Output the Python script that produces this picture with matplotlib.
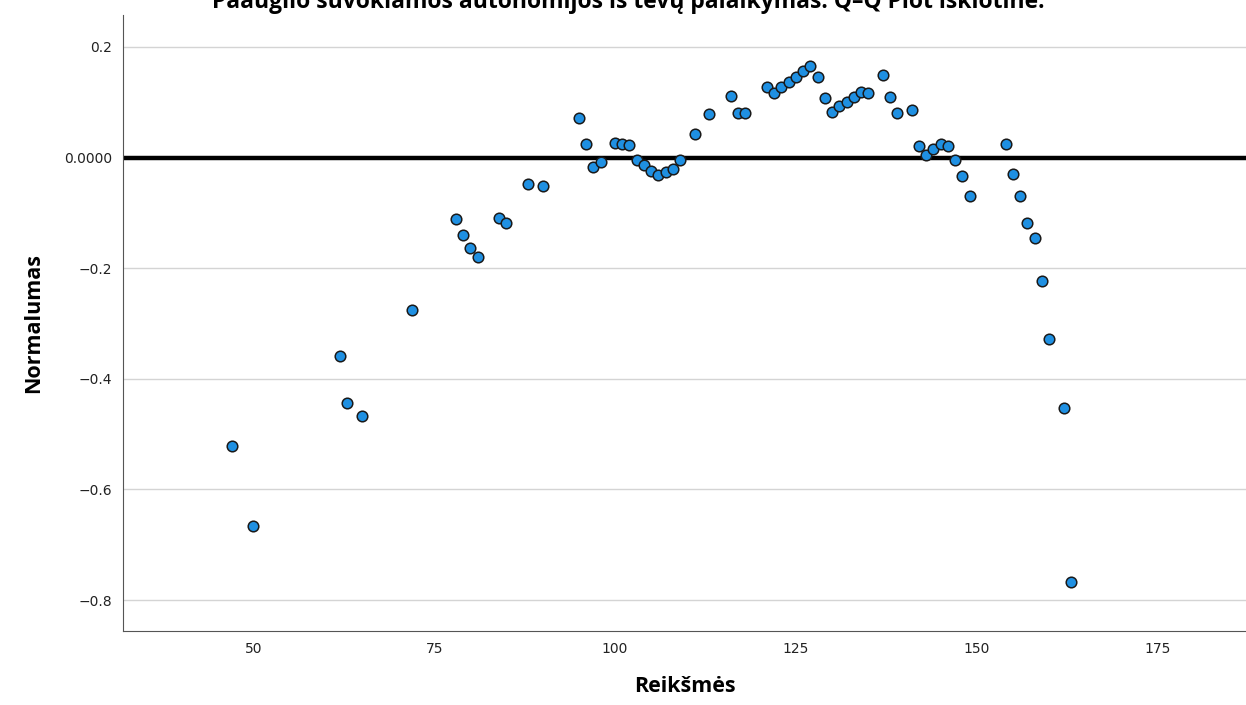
import matplotlib
matplotlib.use('Agg')
import matplotlib.pyplot as plt

# observed values (x) and detrended normal deviation (y)
values = [47, 50, 62, 63, 65, 72, 78, 79, 80, 81, 84, 85, 88, 90,
          95, 96, 97, 98, 100, 101, 102, 103, 104, 105, 106, 107, 108, 109,
          111, 113, 116, 117, 118, 121, 122, 123, 124, 125, 126, 127, 128,
          129, 130, 131, 132, 133, 134, 135, 137, 138, 139, 141, 142, 143,
          144, 145, 146, 147, 148, 149, 154, 155, 156, 157, 158, 159, 160,
          162, 163]
deviation = [-0.521, -0.667, -0.358, -0.443, -0.467, -0.275, -0.112, -0.141,
             -0.163, -0.179, -0.110, -0.119, -0.047, -0.052,
             0.071, 0.024, -0.018, -0.009, 0.027, 0.024, 0.022, -0.004,
             -0.014, -0.024, -0.032, -0.027, -0.020, -0.004,
             0.042, 0.078, 0.112, 0.080, 0.080, 0.128, 0.116, 0.127, 0.136,
             0.146, 0.156, 0.166, 0.146,
             0.107, 0.083, 0.094, 0.101, 0.110, 0.119, 0.116, 0.150, 0.110,
             0.080, 0.085, 0.020, 0.005,
             0.015, 0.025, 0.020, -0.005, -0.034, -0.070, 0.024, -0.030,
             -0.070, -0.119, -0.146, -0.224, -0.329,
             -0.452, -0.767]

x_ticks = [50, 75, 100, 125, 150, 175]
y_ticks = [0.2, 0.0, -0.2, -0.4, -0.6, -0.8]
y_tick_labels = ['0.2', '0.0000', '\u22120.2', '\u22120.4', '\u22120.6', '\u22120.8']

title = 'Paauglio suvokiamos autonomijos iš tėvų palaikymas. Q\u2013Q Plot išklotinė.'

fig = plt.figure(figsize=(12.46, 7.05), dpi=100)
ax = fig.add_axes([0.0987, 0.105, 0.9013, 0.874])

ax.set_xlim(32.0, 187.2)
ax.set_ylim(-0.856, 0.258)

ax.set_yticks(y_ticks)
ax.set_yticklabels(y_tick_labels)
ax.set_xticks(x_ticks)
ax.grid(axis='y', color='#d4d4d4', linewidth=1)
ax.set_axisbelow(True)

ax.axhline(0, color='black', linewidth=3.2, zorder=2)

ax.scatter(values, deviation, s=58, c='#1f90e2', edgecolors='#1a1a1a',
           linewidths=1.1, zorder=3)

for side in ['top', 'right']:
    ax.spines[side].set_visible(False)
for side in ['left', 'bottom']:
    ax.spines[side].set_color('#555555')
ax.tick_params(length=0, labelsize=10, colors='#222222', pad=8)

ax.set_xlabel('Reikšmės', fontsize=15.5, fontweight='bold', family='Open Sans',
              labelpad=14)
ax.set_ylabel('Normalumas', fontsize=15.5, fontweight='bold', family='Open Sans',
              labelpad=14)

fig.text(0.504, 1 - 8 / 705, title, ha='center', va='baseline',
         fontsize=16.5, fontweight='bold', family='Open Sans')

fig.savefig('out.png', dpi=100)
